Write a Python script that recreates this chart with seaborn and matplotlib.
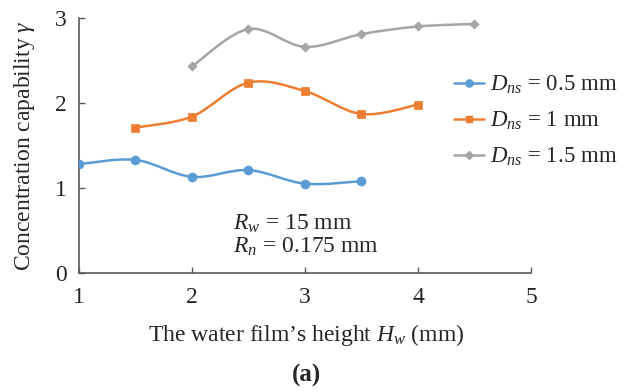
import numpy as np
import pandas as pd
import matplotlib
matplotlib.use("Agg")
import matplotlib.pyplot as plt
import seaborn as sns
from matplotlib.path import Path
from matplotlib.patches import PathPatch
from matplotlib.lines import Line2D

# ---- data ----
hw_05 = [1.0, 1.5, 2.0, 2.5, 3.0, 3.5]
gamma_05 = [1.28, 1.33, 1.13, 1.21, 1.05, 1.08]
hw_10 = [1.5, 2.0, 2.5, 3.0, 3.5, 4.0]
gamma_10 = [1.71, 1.84, 2.24, 2.14, 1.87, 1.98]
hw_15 = [2.0, 2.5, 3.0, 3.5, 4.0, 4.5]
gamma_15 = [2.43, 2.87, 2.66, 2.81, 2.90, 2.93]
series_labels = [r"$D_{ns}$ = 0.5 mm", r"$D_{ns}$ = 1 mm", r"$D_{ns}$ = 1.5 mm"]
x_ticks = [1, 2, 3, 4, 5]
y_ticks = [0, 1, 2, 3]

sns.set_theme(style="white")
plt.rcParams["font.family"] = ["Liberation Serif", "DejaVu Serif"]
plt.rcParams["mathtext.fontset"] = "custom"
plt.rcParams["mathtext.rm"] = "Liberation Serif"
plt.rcParams["mathtext.it"] = "Liberation Serif:italic"
plt.rcParams["mathtext.bf"] = "Liberation Serif:bold"

colors = ["#5B9BD5", "#ED7D31", "#A5A5A5"]
markers = ["o", "s", "D"]
msizes = [42, 38, 22]
FS = 17

fig = plt.figure(figsize=(6.29, 3.91), dpi=100)
ax = fig.add_axes([0.1256, 0.302, 0.7185, 0.652])


def smooth_path(xs, ys):
    pts = np.column_stack([xs, ys]).astype(float)
    n = len(pts)
    verts = [pts[0]]
    codes = [Path.MOVETO]
    for i in range(n - 1):
        p0 = pts[i - 1] if i > 0 else pts[i]
        p1 = pts[i]
        p2 = pts[i + 1]
        p3 = pts[i + 2] if i + 2 < n else pts[i + 1]
        c1 = p1 + (p2 - p0) / 6.0
        c2 = p2 - (p3 - p1) / 6.0
        verts += [c1, c2, p2]
        codes += [Path.CURVE4] * 3
    return Path(verts, codes)


all_series = [(hw_05, gamma_05), (hw_10, gamma_10), (hw_15, gamma_15)]
handles = []
for (xs, ys), c, m, s, lab in zip(all_series, colors, markers, msizes, series_labels):
    df = pd.DataFrame({"Hw": xs, "gamma": ys})
    patch = PathPatch(smooth_path(xs, ys), facecolor="none", edgecolor=c, lw=1.8, zorder=2)
    ax.add_patch(patch)
    sns.scatterplot(data=df, x="Hw", y="gamma", ax=ax, color=c, marker=m, s=s,
                    edgecolor=c, linewidth=0.5, zorder=3, legend=False)
    handles.append(Line2D([0], [0], color=c, lw=1.8, marker=m,
                          markersize=np.sqrt(s) * 0.8, markeredgecolor=c, label=lab))

ax.set_xlim(1, 5)
ax.set_ylim(0, 3)
ax.set_xticks(x_ticks)
ax.set_yticks(y_ticks)
ax.set_xticklabels([str(t) for t in x_ticks], fontsize=FS)
ax.set_yticklabels([str(t) for t in y_ticks], fontsize=FS)
ax.tick_params(axis="both", direction="in", length=4, width=1, color="#595959",
               left=True, bottom=True)
ax.tick_params(axis="x", pad=10)
ax.tick_params(axis="y", pad=9)
for side in ["top", "right"]:
    ax.spines[side].set_visible(False)
for side in ["left", "bottom"]:
    ax.spines[side].set_color("#595959")
    ax.spines[side].set_linewidth(1.2)

ax.set_xlabel(r"The water film’s height $H_w$ (mm)", fontsize=FS)
ax.xaxis.label.set_va("center")
ax.xaxis.set_label_coords(0.502, -0.243)
ax.set_ylabel(r"Concentration capability $\gamma$", fontsize=FS)
ax.yaxis.label.set_va("center")
ax.yaxis.set_label_coords(-0.12, 0.5)

ax.text(2.36, 0.575, r"$R_w$ = 15 mm", fontsize=FS, va="center", ha="left")
ax.text(2.36, 0.305, r"$R_n$ = 0.175 mm", fontsize=FS, va="center", ha="left")

leg = ax.legend(handles=handles, loc="center left",
                bbox_to_anchor=(454 / 629, 1 - 121 / 391),
                bbox_transform=fig.transFigure, borderaxespad=0, borderpad=0,
                frameon=False, fontsize=16.5, handlelength=1.3, labelspacing=0.6,
                handletextpad=0.25)

fig.text(0.488, 1 - 375 / 391, "(a)", fontsize=18, fontweight="bold", ha="center", va="center")

fig.savefig("out.png", dpi=100)
